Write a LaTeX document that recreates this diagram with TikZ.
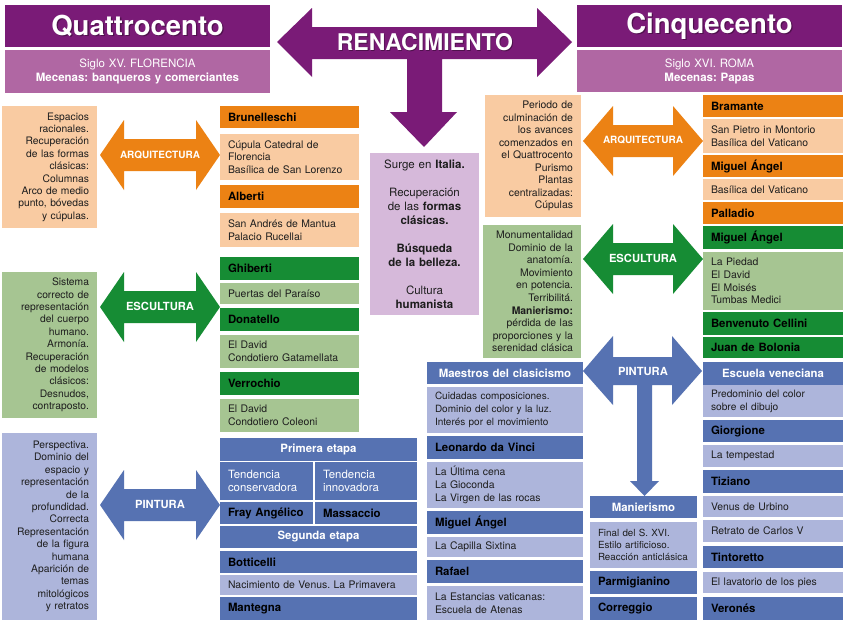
\documentclass[tikz,border=0pt]{standalone}
\usepackage{fontspec}
\setmainfont{TeX Gyre Heros}
\definecolor{cPD}{HTML}{7A1B77}
\definecolor{cPL}{HTML}{B067A3}
\definecolor{cPC}{HTML}{D6B9DA}
\definecolor{cOr}{HTML}{EC8214}
\definecolor{cOrL}{HTML}{F9CBA2}
\definecolor{cGr}{HTML}{168C34}
\definecolor{cGrL}{HTML}{A6C592}
\definecolor{cBl}{HTML}{5672B2}
\definecolor{cBlL}{HTML}{ADB5DB}
\definecolor{cTx}{HTML}{1E1E1E}
\newcommand\fs[2]{\fontsize{#1}{#2}\selectfont}
\newcommand\bx[7]{%
  \pgfmathsetmacro\bxtw{#4-16}%
  \node[anchor=north west, inner xsep=8pt, inner ysep=0pt, outer sep=0pt,
        minimum width=#4pt, minimum height=#5pt, text width=\bxtw pt, #6] (#1) at (#2,#3) {#7};}
\newcommand\hdarrow[8]{% name, xl, xr, cy, depth, headhalf, shafthalf, color
  \fill[#8] (#2,#4) -- (#2+#5,#4-#6) -- (#2+#5,#4-#7) -- (#3-#5,#4-#7) -- (#3-#5,#4-#6)
    -- (#3,#4) -- (#3-#5,#4+#6) -- (#3-#5,#4+#7) -- (#2+#5,#4+#7) -- (#2+#5,#4+#6) -- cycle;}
\tikzset{
  every node/.append style={execute at begin node=\frenchspacing},
  ph/.style={fill=cPD, text=white, align=center, font=\bfseries\fs{27}{30}},
  ps/.style={fill=cPL, text=white, align=center, font=\fs{11.5}{14}},
  oh/.style={fill=cOr, text=black, align=left, font=\bfseries\fs{11.4}{13}},
  ob/.style={fill=cOrL, text=cTx, align=left, font=\fs{10.4}{12.7}},
  gh/.style={fill=cGr, text=black, align=left, font=\bfseries\fs{11.4}{13}},
  gb/.style={fill=cGrL, text=cTx, align=left, font=\fs{10.4}{12.7}},
  bh/.style={fill=cBl, text=black, align=left, font=\bfseries\fs{11.4}{13}},
  bw/.style={fill=cBl, text=white, align=center, font=\bfseries\fs{11.4}{13}},
  bt/.style={fill=cBl, text=white, align=left, font=\fs{11.4}{13.3}},
  bb/.style={fill=cBlL, text=cTx, align=left, font=\fs{10.4}{12.7}},
  rt/.style={align=right, text=cTx, font=\fs{10.3}{12.4}},
  al/.style={text=white, inner sep=0pt, font=\bfseries\fs{11.2}{13}},
  shd/.style={text=black, opacity=0.35, inner sep=0pt},
}
\begin{document}
\begin{tikzpicture}[x=1pt,y=-1pt]
\useasboundingbox[fill=white] (0,0) rectangle (848,621);

% ---------- headers ----------
\bx{qh}{5}{5}{265}{42}{ph}{}
\node[shd, font=\bfseries\fs{27.5}{30}] (qts) at (138.8,27.3) {Quattrocento};
\node[text=white, inner sep=0pt, font=\bfseries\fs{27.5}{30}] (qt) at (qh.center) {Quattrocento};
\bx{qs}{5}{50}{265}{43}{ps}{Siglo XV. FLORENCIA\\\textbf{Mecenas: banqueros y comerciantes}}
\bx{ch}{577}{5}{265}{42}{ph}{}
\node[shd, font=\bfseries\fs{27.5}{30}] (cts) at (710.8,27.3) {Cinquecento};
\node[text=white, inner sep=0pt, font=\bfseries\fs{27.5}{30}] (ct) at (ch.center) {Cinquecento};
\bx{cs}{577}{50}{265}{42}{ps}{Siglo XVI. ROMA\\\textbf{Mecenas: Papas}}

% ---------- central purple arrow ----------
\fill[cPD] (277,42) -- (312,8) -- (312,27) -- (537,27) -- (537,8) -- (572,42) -- (537,77)
  -- (537,59) -- (442,59) -- (442,112) -- (457,112) -- (424,147) -- (390,112) -- (407,112)
  -- (407,59) -- (312,59) -- (312,77) -- cycle;
\node[shd, font=\bfseries\fs{23}{26}] (rens) at (425.8,43.5) {RENACIMIENTO};
\node[text=white, inner sep=0pt, font=\bfseries\fs{23}{26}] (ren) at (425,42.5) {RENACIMIENTO};

\bx{cen}{370}{153}{109}{162}{fill=cPC, text=cTx, align=center, font=\fs{11.5}{14}}
{Surge en \textbf{Italia.}\\[14pt]Recuperación\\de las \textbf{formas}\\\textbf{clásicas.}\\[14pt]\textbf{Búsqueda}\\\textbf{de la belleza.}\\[14pt]Cultura\\\textbf{humanista}}

% ---------- Quattrocento: left boxes ----------
\bx{larq}{2}{106}{95}{122}{fill=cOrL, rt}{Espacios\\racionales.\\Recuperación\\de las formas\\clásicas:\\Columnas\\Arco de medio\\punto, bóvedas\\y cúpulas.}
\bx{lesc}{2}{272}{95}{146}{fill=cGrL, rt}{Sistema\\correcto de\\representación\\del cuerpo\\humano.\\Armonía.\\Recuperación\\de modelos\\clásicos:\\Desnudos,\\contraposto.}
\bx{lpin}{2}{433}{95}{187}{fill=cBlL, rt}{Perspectiva.\\Dominio del\\espacio y\\representación\\de la\\profundidad.\\Correcta\\Representación\\de la figura\\humana\\Aparición de\\temas\\mitológicos\\y retratos}

% left double arrows
\hdarrow{a1}{100}{220}{155}{24}{35}{16}{cOr}
\node[al, font=\bfseries\fs{10}{12}] (a1l) at (160,155) {ARQUITECTURA};
\hdarrow{a2}{100}{220}{307}{24}{35}{16}{cGr}
\node[al] (a2l) at (160,306) {ESCULTURA};
\hdarrow{a3}{100}{220}{505}{24}{35}{16}{cBl}
\node[al] (a3l) at (160,504) {PINTURA};

% Quattrocento artists
\bx{bru}{220}{106}{139}{22}{oh}{Brunelleschi}
\bx{brub}{220}{134}{139}{46}{ob}{Cúpula Catedral de\\Florencia\\Basílica de San Lorenzo}
\bx{alb}{220}{185}{139}{23}{oh}{Alberti}
\bx{albb}{220}{213}{139}{34}{ob}{San Andrés de Mantua\\Palacio Rucellai}
\bx{ghi}{220}{257}{139}{23}{gh}{Ghiberti}
\bx{ghib}{220}{283}{139}{21}{gb}{Puertas del Paraíso}
\bx{don}{220}{308}{139}{23}{gh}{Donatello}
\bx{donb}{220}{335}{139}{33}{gb}{El David\\Condotiero Gatamellata}
\bx{ver}{220}{372}{139}{23}{gh}{Verrochio}
\bx{verb}{220}{399}{139}{33}{gb}{El David\\Condotiero Coleoni}

\bx{pe}{220}{438}{197}{23}{bw}{Primera etapa}
\bx{tc}{220}{462}{93}{38}{bt}{Tendencia\\conservadora}
\bx{ti}{315}{462}{102}{38}{bt}{Tendencia\\innovadora}
\bx{fra}{220}{502}{93}{22}{bh}{Fray Angélico}
\bx{mas}{315}{502}{102}{22}{bh}{Massaccio}
\bx{se}{220}{526}{197}{22}{bw}{Segunda etapa}
\bx{bot}{220}{551}{197}{22}{bh}{Botticelli}
\bx{botb}{220}{575}{197}{20}{bb}{Nacimiento de Venus. La Primavera}
\bx{man}{220}{597}{197}{23}{bh}{Mantegna}

% ---------- Cinquecento middle ----------
\bx{rarq}{485}{95}{96}{122}{fill=cOrL, rt, font=\fs{10.4}{12.5}}{Periodo de\\culminación de\\los avances\\comenzados en\\el Quattrocento\\Purismo\\Plantas\\centralizadas:\\Cúpulas}
\bx{resc}{483}{225}{98}{133}{fill=cGrL, rt, font=\fs{10.4}{12.6}}{Monumentalidad\\Dominio de la\\anatomía.\\Movimiento\\en potencia.\\Terribilitá.\\\textbf{Manierismo:}\\pérdida de las\\proporciones y la\\serenidad clásica}

\bx{mae}{427}{362}{156}{22}{bw}{Maestros del clasicismo}
\bx{maeb}{427}{387}{156}{46}{bb, font=\fs{10}{12.8}}{Cuidadas composiciones.\\Dominio del color y la luz.\\Interés por el movimiento}
\bx{leo}{427}{436}{156}{23}{bh}{Leonardo da Vinci}
\bx{leob}{427}{462}{156}{46}{bb}{La Última cena\\La Gioconda\\La Virgen de las rocas}
\bx{mig}{427}{511}{156}{23}{bh}{Miguel Ángel}
\bx{migb}{427}{537}{156}{20}{bb}{La Capilla Sixtina}
\bx{raf}{427}{560}{156}{23}{bh}{Rafael}
\bx{rafb}{427}{586}{156}{34}{bb}{La Estancias vaticanas:\\Escuela de Atenas}

\bx{mnr}{590}{496}{107}{22}{bw}{Manierismo}
\bx{mnrb}{590}{522}{107}{46}{bb, font=\fs{9.8}{12.3}}{Final del S. XVI.\\Estilo artificioso.\\Reacción anticlásica}
\bx{par}{590}{571}{107}{23}{bh}{Parmigianino}
\bx{cor}{590}{597}{107}{23}{bh}{Correggio}

% right double arrows
\hdarrow{b1}{583}{703}{141}{30}{35}{16}{cOr}
\node[al, font=\bfseries\fs{10}{12}] (b1l) at (643,140) {ARQUITECTURA};
\hdarrow{b2}{583}{703}{259}{30}{35}{16}{cGr}
\node[al] (b2l) at (643,258) {ESCULTURA};
\fill[cBl] (583,371) -- (613,336) -- (613,357) -- (672,357) -- (672,336) -- (702,371)
  -- (672,405) -- (672,385) -- (652,385) -- (652,481) -- (659,481) -- (644.5,496)
  -- (630,481) -- (637,481) -- (637,385) -- (613,385) -- (613,405) -- cycle;
\node[al] (b3l) at (643,371) {PINTURA};

% right column
\bx{bra}{703}{95}{140}{22}{oh}{Bramante}
\bx{brab}{703}{119}{140}{34}{ob}{San Pietro in Montorio\\Basílica del Vaticano}
\bx{mia}{703}{155}{140}{22}{oh}{Miguel Ángel}
\bx{miab}{703}{179}{140}{21}{ob}{Basílica del Vaticano}
\bx{pal}{703}{202}{140}{22}{oh}{Palladio}
\bx{mie}{703}{226}{140}{23}{gh}{Miguel Ángel}
\bx{mieb}{703}{252}{140}{58}{gb}{La Piedad\\El David\\El Moisés\\Tumbas Medici}
\bx{ben}{703}{312}{140}{23}{gh}{Benvenuto Cellini}
\bx{jua}{703}{337}{140}{21}{gh}{Juan de Bolonia}
\bx{esv}{703}{362}{140}{23}{bw}{Escuela veneciana}
\bx{esvb}{703}{385}{140}{32}{bb, font=\fs{10.2}{13}}{Predominio del color\\sobre el dibujo}
\bx{gio}{703}{420}{140}{22}{bh}{Giorgione}
\bx{giob}{703}{445}{140}{22}{bb}{La tempestad}
\bx{tiz}{703}{470}{140}{23}{bh}{Tiziano}
\bx{tizb}{703}{496}{140}{21}{bb}{Venus de Urbino}
\bx{tizc}{703}{520}{140}{22}{bb}{Retrato de Carlos V}
\bx{tin}{703}{546}{140}{22}{bh}{Tintoretto}
\bx{tinb}{703}{572}{140}{21}{bb}{El lavatorio de los pies}
\bx{vro}{703}{597}{140}{23}{bh}{Veronés}
\end{tikzpicture}
\end{document}
